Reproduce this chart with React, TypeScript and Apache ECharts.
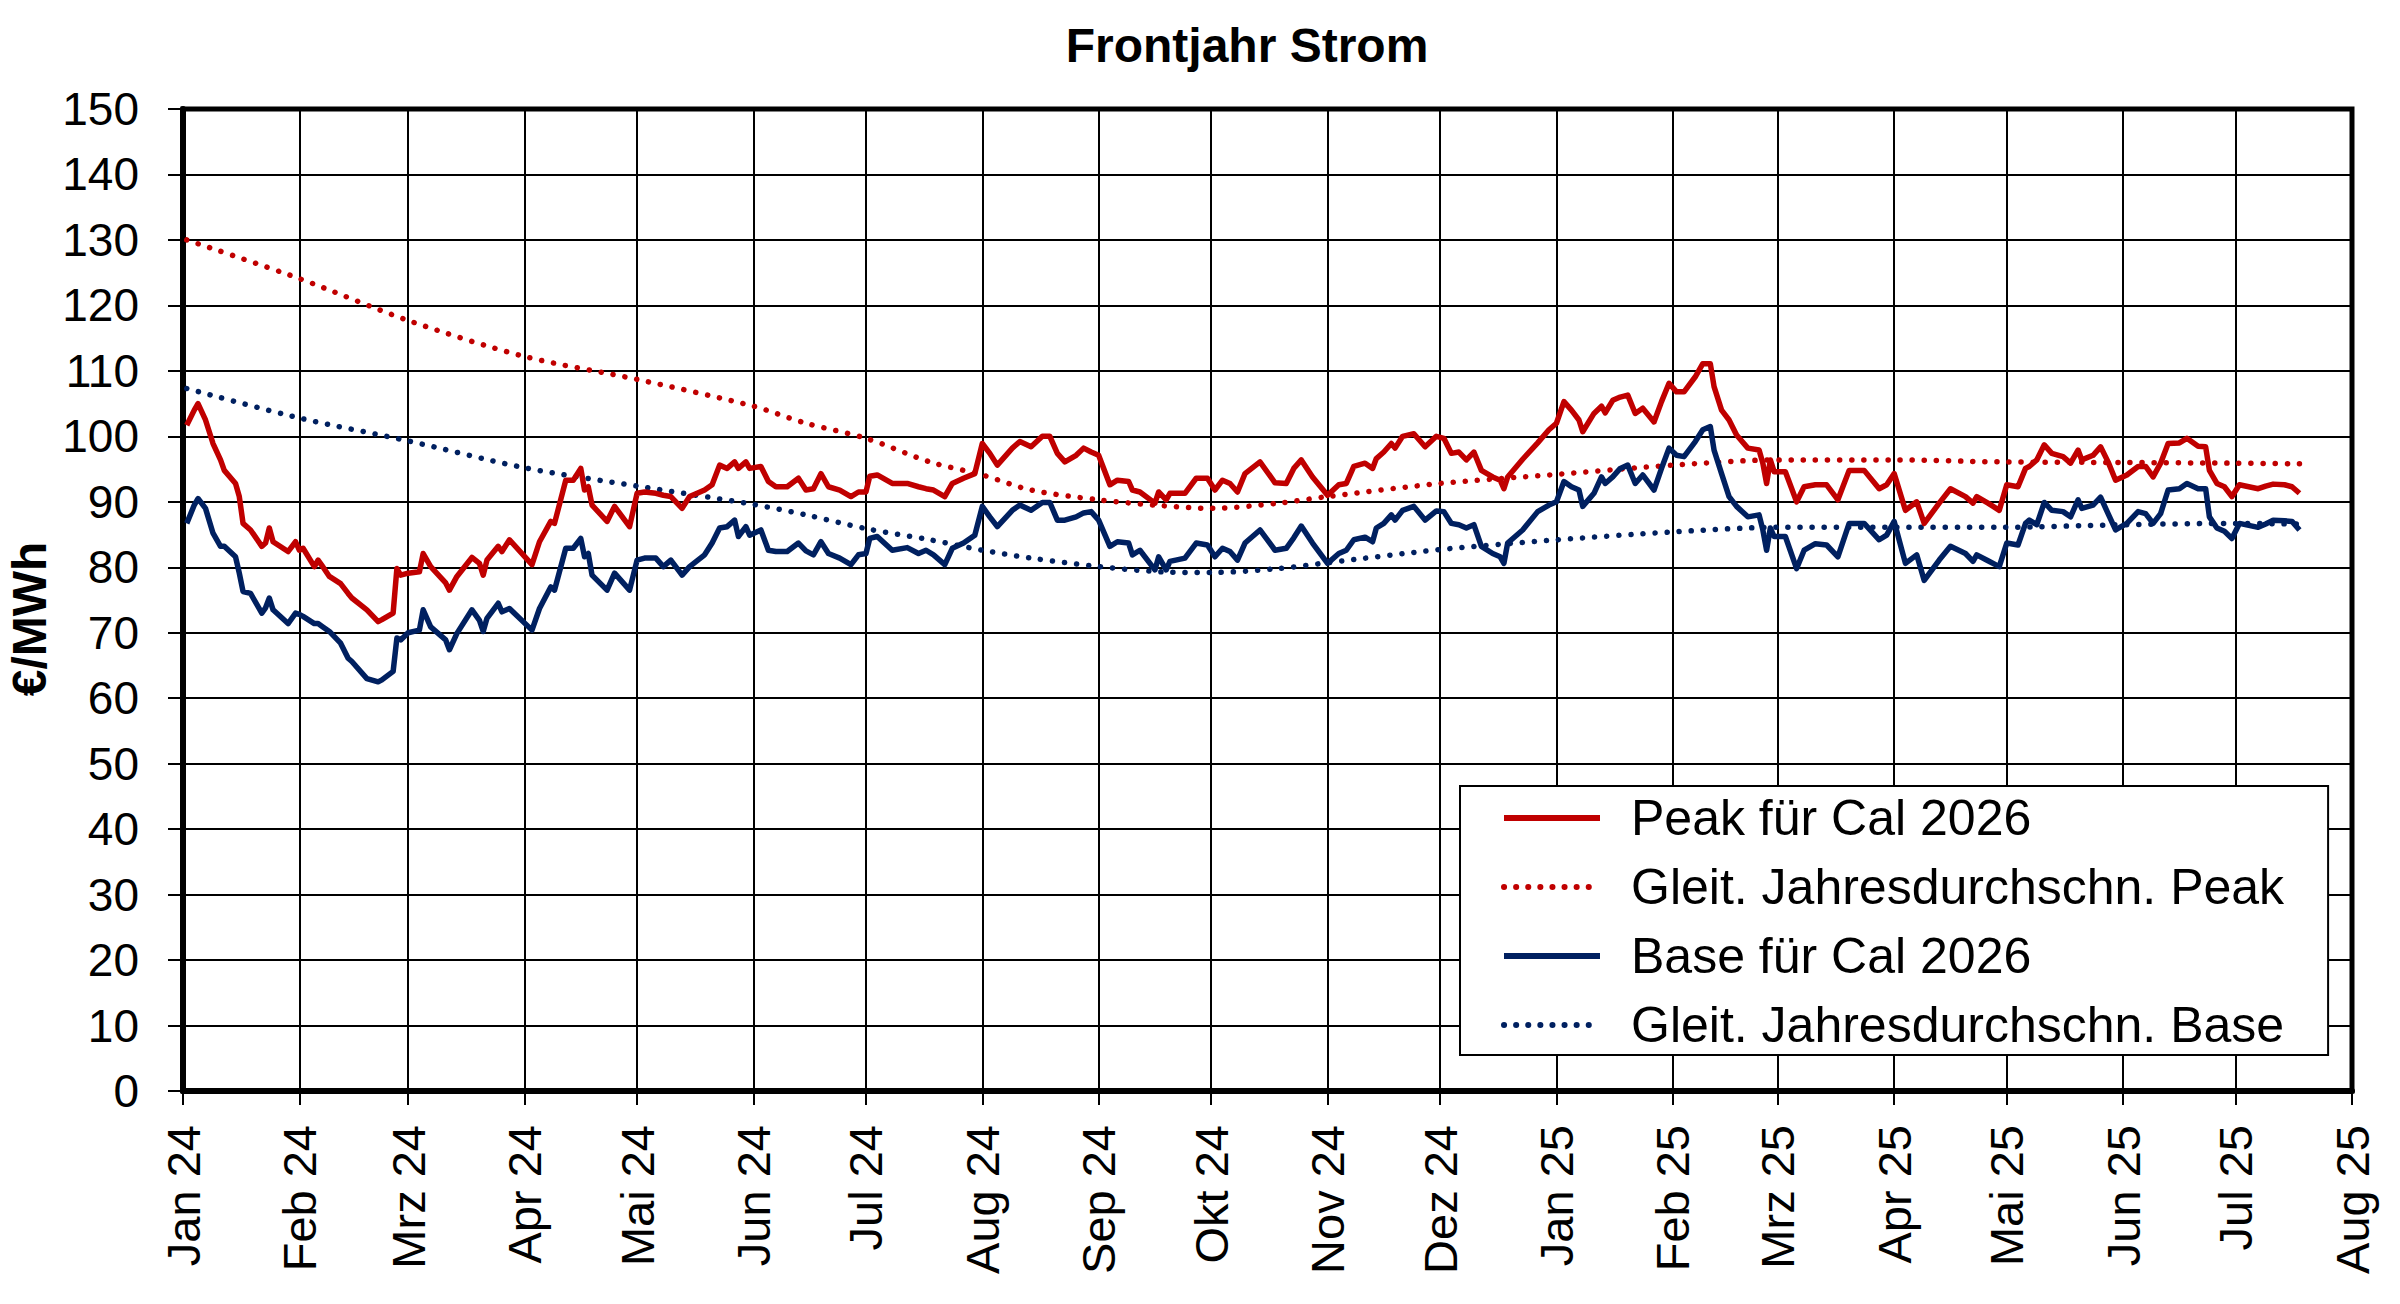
import React, { useEffect, useRef } from "react";
import * as echarts from "echarts";

const MONTHS_DE = ["Jan", "Feb", "Mrz", "Apr", "Mai", "Jun", "Jul", "Aug", "Sep", "Okt", "Nov", "Dez"];

const TITLE = "Frontjahr Strom";
const Y_NAME = "€/MWh";
const SERIES_NAMES = [
  "Peak für Cal 2026",
  "Gleit. Jahresdurchschn. Peak",
  "Base für Cal 2026",
  "Gleit. Jahresdurchschn. Base",
];

const dates = [
  "2024-01-02", "2024-01-04", "2024-01-05", "2024-01-07", "2024-01-09", "2024-01-11", "2024-01-12", "2024-01-15",
  "2024-01-16", "2024-01-17", "2024-01-19", "2024-01-22", "2024-01-23", "2024-01-24", "2024-01-25", "2024-01-29",
  "2024-01-31", "2024-02-01", "2024-02-02", "2024-02-05", "2024-02-06", "2024-02-07", "2024-02-09", "2024-02-12",
  "2024-02-14", "2024-02-15", "2024-02-19", "2024-02-22", "2024-02-23", "2024-02-26", "2024-02-27", "2024-02-28",
  "2024-03-01", "2024-03-04", "2024-03-05", "2024-03-07", "2024-03-11", "2024-03-12", "2024-03-14", "2024-03-18",
  "2024-03-20", "2024-03-21", "2024-03-22", "2024-03-25", "2024-03-26", "2024-03-28", "2024-04-03", "2024-04-05",
  "2024-04-08", "2024-04-09", "2024-04-12", "2024-04-14", "2024-04-16", "2024-04-17", "2024-04-18", "2024-04-19",
  "2024-04-23", "2024-04-25", "2024-04-29", "2024-05-01", "2024-05-03", "2024-05-06", "2024-05-08", "2024-05-10",
  "2024-05-13", "2024-05-15", "2024-05-19", "2024-05-21", "2024-05-23", "2024-05-25", "2024-05-27", "2024-05-28",
  "2024-05-30", "2024-05-31", "2024-06-03", "2024-06-05", "2024-06-07", "2024-06-10", "2024-06-13", "2024-06-15",
  "2024-06-17", "2024-06-19", "2024-06-21", "2024-06-24", "2024-06-27", "2024-06-29", "2024-07-01", "2024-07-02",
  "2024-07-04", "2024-07-08", "2024-07-12", "2024-07-15", "2024-07-17", "2024-07-19", "2024-07-22", "2024-07-24",
  "2024-07-27", "2024-07-30", "2024-08-01", "2024-08-03", "2024-08-05", "2024-08-09", "2024-08-11", "2024-08-14",
  "2024-08-17", "2024-08-19", "2024-08-21", "2024-08-23", "2024-08-26", "2024-08-28", "2024-08-30", "2024-09-01",
  "2024-09-04", "2024-09-06", "2024-09-09", "2024-09-10", "2024-09-12", "2024-09-16", "2024-09-17", "2024-09-19",
  "2024-09-20", "2024-09-24", "2024-09-27", "2024-09-30", "2024-10-02", "2024-10-04", "2024-10-06", "2024-10-08",
  "2024-10-10", "2024-10-14", "2024-10-18", "2024-10-21", "2024-10-23", "2024-10-25", "2024-10-28", "2024-11-01",
  "2024-11-04", "2024-11-06", "2024-11-08", "2024-11-11", "2024-11-13", "2024-11-14", "2024-11-16", "2024-11-18",
  "2024-11-19", "2024-11-21", "2024-11-24", "2024-11-27", "2024-11-30", "2024-12-02", "2024-12-04", "2024-12-06",
  "2024-12-08", "2024-12-10", "2024-12-12", "2024-12-15", "2024-12-17", "2024-12-18", "2024-12-19", "2024-12-23",
  "2024-12-27", "2024-12-30", "2025-01-01", "2025-01-03", "2025-01-05", "2025-01-07", "2025-01-08", "2025-01-11",
  "2025-01-13", "2025-01-14", "2025-01-16", "2025-01-18", "2025-01-20", "2025-01-22", "2025-01-24", "2025-01-27",
  "2025-01-29", "2025-01-31", "2025-02-02", "2025-02-04", "2025-02-07", "2025-02-09", "2025-02-11", "2025-02-12",
  "2025-02-14", "2025-02-16", "2025-02-18", "2025-02-21", "2025-02-24", "2025-02-25", "2025-02-26", "2025-02-27",
  "2025-02-28", "2025-03-03", "2025-03-06", "2025-03-08", "2025-03-11", "2025-03-14", "2025-03-17", "2025-03-20",
  "2025-03-24", "2025-03-28", "2025-03-30", "2025-04-01", "2025-04-04", "2025-04-07", "2025-04-09", "2025-04-13",
  "2025-04-16", "2025-04-20", "2025-04-22", "2025-04-23", "2025-04-26", "2025-04-29", "2025-05-01", "2025-05-04",
  "2025-05-06", "2025-05-07", "2025-05-09", "2025-05-11", "2025-05-13", "2025-05-16", "2025-05-18", "2025-05-20",
  "2025-05-21", "2025-05-24", "2025-05-26", "2025-05-28", "2025-05-30", "2025-06-02", "2025-06-05", "2025-06-07",
  "2025-06-09", "2025-06-11", "2025-06-13", "2025-06-16", "2025-06-18", "2025-06-21", "2025-06-23", "2025-06-24",
  "2025-06-26", "2025-06-28", "2025-06-30", "2025-07-02", "2025-07-07", "2025-07-09", "2025-07-11", "2025-07-14",
  "2025-07-16", "2025-07-18",
];

const peak = [
  101.7, 104.0, 105.0, 102.5, 98.9, 96.4, 94.8, 92.8,
  90.8, 86.7, 85.7, 83.2, 83.7, 86.0, 83.9, 82.4,
  83.9, 82.6, 82.9, 80.1, 81.1, 80.3, 78.6, 77.5,
  76.0, 75.3, 73.5, 71.7, 72.0, 73.0, 79.8, 78.8,
  79.1, 79.3, 82.1, 80.1, 77.6, 76.5, 78.6, 81.5,
  80.6, 78.8, 81.1, 83.2, 82.4, 84.2, 80.4, 83.9,
  87.0, 86.7, 93.3, 93.3, 95.1, 91.8, 92.3, 89.5,
  87.0, 89.3, 86.2, 91.3, 91.5, 91.3, 91.0, 90.8,
  89.0, 90.8, 91.8, 92.6, 95.6, 95.1, 96.1, 95.1,
  96.1, 95.1, 95.4, 93.1, 92.3, 92.3, 93.6, 91.8,
  92.0, 94.3, 92.3, 91.8, 90.8, 91.5, 91.5, 93.9,
  94.1, 92.8, 92.8, 92.3, 92.0, 91.8, 90.8, 92.8,
  93.6, 94.3, 98.9, 97.4, 95.6, 98.2, 99.2, 98.4,
  100.0, 100.0, 97.4, 96.1, 97.1, 98.2, 97.6, 97.1,
  92.6, 93.3, 93.1, 91.8, 91.5, 89.8, 91.5, 90.3,
  91.3, 91.3, 93.6, 93.6, 91.8, 93.3, 92.8, 91.5,
  94.3, 96.1, 92.9, 92.8, 95.1, 96.4, 93.8, 91.0,
  92.6, 92.8, 95.4, 95.9, 95.1, 96.6, 97.6, 98.9,
  98.2, 100.0, 100.4, 98.4, 100.0, 99.7, 97.4, 97.6,
  96.4, 97.6, 94.8, 93.8, 93.3, 92.0, 93.8, 96.5,
  99.0, 101.0, 102.0, 105.3, 104.0, 102.5, 100.7, 103.5,
  104.6, 103.6, 105.5, 106.0, 106.3, 103.5, 104.3, 102.2,
  105.3, 108.1, 106.8, 106.8, 109.1, 111.1, 111.1, 107.6,
  104.0, 102.5, 100.2, 98.2, 97.9, 95.9, 92.8, 96.4,
  94.6, 94.6, 90.0, 92.3, 92.6, 92.6, 90.3, 94.8,
  94.8, 92.0, 92.6, 94.3, 88.7, 90.0, 86.7, 89.8,
  92.0, 90.8, 89.8, 90.8, 89.8, 88.7, 92.6, 92.3,
  95.1, 95.4, 96.4, 98.7, 97.4, 96.9, 95.9, 97.9,
  96.4, 97.1, 98.4, 96.1, 93.3, 94.1, 95.4, 95.4,
  93.8, 95.9, 98.9, 99.0, 99.7, 98.5, 98.4, 94.8,
  92.8, 92.3, 90.8, 92.6, 92.0, 92.4, 92.7, 92.6,
  92.3, 91.3,
];

const base = [
  86.7, 89.5, 90.5, 89.0, 85.2, 83.2, 83.2, 81.6,
  79.1, 76.3, 76.0, 73.0, 73.8, 75.3, 73.5, 71.4,
  73.0, 72.8, 72.5, 71.4, 71.4, 71.0, 70.2, 68.4,
  66.1, 65.6, 63.0, 62.5, 62.8, 64.1, 69.2, 68.9,
  70.0, 70.4, 73.5, 70.9, 68.9, 67.4, 69.9, 73.5,
  71.9, 70.2, 72.2, 74.5, 73.2, 73.7, 70.4, 73.7,
  77.0, 76.5, 82.9, 82.9, 84.4, 81.6, 82.1, 78.8,
  76.5, 79.1, 76.5, 81.1, 81.4, 81.4, 80.1, 81.1,
  78.8, 80.1, 81.9, 83.7, 86.0, 86.2, 87.2, 84.7,
  86.2, 84.9, 85.7, 82.6, 82.4, 82.4, 83.7, 82.5,
  81.9, 83.9, 82.1, 81.4, 80.4, 81.9, 82.1, 84.4,
  84.7, 82.6, 83.0, 82.1, 82.6, 81.9, 80.4, 82.9,
  83.7, 84.9, 89.3, 87.7, 86.2, 88.7, 89.5, 88.7,
  89.9, 89.9, 87.2, 87.2, 87.7, 88.3, 88.5, 87.2,
  83.2, 83.9, 83.7, 81.9, 82.6, 79.6, 81.6, 79.6,
  80.9, 81.4, 83.7, 83.4, 81.6, 82.9, 82.4, 81.1,
  83.7, 85.7, 82.6, 82.9, 84.5, 86.3, 83.7, 80.6,
  82.1, 82.6, 84.2, 84.6, 83.9, 86.0, 86.7, 88.0,
  87.2, 88.7, 89.3, 87.2, 88.6, 88.5, 86.7, 86.5,
  86.0, 86.5, 83.2, 82.1, 81.6, 80.6, 83.7, 85.7,
  88.5, 89.5, 90.0, 93.1, 92.3, 91.8, 89.3, 91.3,
  93.8, 92.8, 93.8, 95.1, 95.6, 92.8, 94.1, 91.8,
  95.1, 98.2, 97.1, 96.9, 99.2, 101.0, 101.5, 97.9,
  94.3, 90.8, 89.3, 87.7, 88.0, 85.7, 82.6, 86.0,
  84.7, 84.7, 79.8, 82.6, 83.6, 83.4, 81.6, 86.7,
  86.7, 84.2, 84.9, 87.0, 80.6, 81.9, 78.0, 81.1,
  83.2, 82.1, 80.9, 81.9, 81.0, 80.1, 83.7, 83.4,
  86.7, 87.2, 86.5, 89.9, 88.7, 88.5, 87.7, 90.3,
  89.0, 89.5, 90.7, 88.2, 85.7, 86.7, 88.5, 88.2,
  86.7, 88.2, 91.8, 92.0, 92.8, 92.0, 92.0, 87.7,
  86.0, 85.5, 84.4, 86.7, 86.1, 86.6, 87.2, 87.1,
  87.0, 85.7,
];

const avgDates = [
  "2024-01-02", "2024-02-01", "2024-03-01", "2024-04-01", "2024-05-01", "2024-06-01", "2024-06-15", "2024-07-01",
  "2024-07-18", "2024-08-01", "2024-08-14", "2024-09-01", "2024-09-18", "2024-10-01", "2024-10-19", "2024-11-01",
  "2024-12-01", "2024-12-30", "2025-02-01", "2025-03-01", "2025-04-01", "2025-04-29", "2025-06-01", "2025-07-01",
  "2025-07-18",
];

const peakAvg = [
  130.0, 124.1, 117.7, 112.2, 108.7, 104.6, 102.0, 99.7,
  96.1, 94.1, 91.8, 90.3, 89.4, 89.0, 89.8, 90.8,
  92.8, 94.1, 95.6, 96.4, 96.4, 96.1, 96.0, 95.9,
  95.8,
];

const baseAvg = [
  107.3, 102.8, 99.3, 95.2, 92.4, 89.6, 88.0, 85.9,
  84.2, 82.6, 81.4, 80.1, 79.3, 79.2, 79.8, 80.7,
  82.7, 84.1, 85.4, 86.1, 86.1, 86.1, 86.5, 86.7,
  86.6,
];

const FONT = '"Liberation Sans", Arial, Helvetica, sans-serif';
const RED = "#C00000";
const BLUE = "#002060";
const DAY = 24 * 3600 * 1000;

export default function App() {
  const ref = useRef<HTMLDivElement>(null);

  useEffect(() => {
    if (!ref.current) return;
    const chart = echarts.init(ref.current, undefined, { renderer: "svg" });

    const pair = (ds: string[], vs: number[]) => ds.map((d, i) => [d, vs[i]]);
    const dotted = { type: [0.1, 12] as any, width: 5.5, cap: "round" as const };

    chart.setOption({
      animation: false,
      backgroundColor: "#ffffff",
      graphic: [
        {
          type: "text",
          x: 1247,
          y: 45,
          style: {
            text: TITLE,
            fontFamily: FONT,
            fontSize: 48,
            fontWeight: "bold",
            fill: "#000",
            align: "center",
            verticalAlign: "middle",
          },
        },
        {
          type: "text",
          x: 29,
          y: 619,
          rotation: Math.PI / 2,
          style: {
            text: Y_NAME,
            fontFamily: FONT,
            fontSize: 48,
            fontWeight: "bold",
            fill: "#000",
            align: "center",
            verticalAlign: "middle",
          },
        },
      ],
      grid: {
        left: 183,
        right: 48,
        top: 109,
        bottom: 213,
        show: true,
        borderColor: "#000",
        borderWidth: 5,
        backgroundColor: "transparent",
        containLabel: false,
      },
      legend: {
        orient: "vertical",
        left: 1460,
        top: 786,
        itemWidth: 96,
        itemHeight: 14,
        itemGap: 19,
        padding: [7, 44, 5, 41],
        backgroundColor: "#ffffff",
        borderColor: "#000",
        borderWidth: 2,
        borderRadius: 0,
        selectedMode: false,
        itemStyle: { color: "transparent", opacity: 0, borderWidth: 0 },
        lineStyle: { width: 6 },
        textStyle: {
          fontFamily: FONT,
          fontSize: 50,
          color: "#000",
          padding: [0, 0, 0, 26],
        },
        data: SERIES_NAMES,
      },
      xAxis: {
        type: "time",
        min: "2024-01-01",
        max: "2025-08-01",
        minInterval: 28 * DAY,
        maxInterval: 31 * DAY,
        axisLine: { show: true, lineStyle: { color: "#000", width: 6 } },
        axisTick: { show: true, length: 14, lineStyle: { color: "#000", width: 2 } },
        splitLine: { show: true, lineStyle: { color: "#000", width: 2 } },
        axisLabel: {
          rotate: 90,
          margin: 34,
          fontSize: 47,
          fontFamily: FONT,
          color: "#000",
          showMinLabel: true,
          showMaxLabel: true,
          formatter: (v: number) => {
            const d = new Date(v);
            return MONTHS_DE[d.getMonth()] + " " + String(d.getFullYear()).slice(2);
          },
        },
      },
      yAxis: {
        type: "value",
        min: 0,
        max: 150,
        interval: 10,
        axisLine: { show: true, lineStyle: { color: "#000", width: 6 } },
        axisTick: { show: true, length: 15, lineStyle: { color: "#000", width: 2 } },
        splitLine: { show: true, lineStyle: { color: "#000", width: 2 } },
        axisLabel: { margin: 44, fontSize: 46, fontFamily: FONT, color: "#000" },
      },
      series: [
        {
          name: SERIES_NAMES[1],
          type: "line",
          data: pair(avgDates, peakAvg),
          symbol: "none",
          smooth: 0.3,
          lineStyle: { color: RED, ...dotted },
          itemStyle: { color: RED },
          z: 3,
        },
        {
          name: SERIES_NAMES[3],
          type: "line",
          data: pair(avgDates, baseAvg),
          symbol: "none",
          smooth: 0.3,
          lineStyle: { color: BLUE, ...dotted },
          itemStyle: { color: BLUE },
          z: 3,
        },
        {
          name: SERIES_NAMES[0],
          type: "line",
          data: pair(dates, peak),
          symbol: "none",
          lineStyle: { color: RED, width: 5.5, join: "round" },
          itemStyle: { color: RED },
          z: 4,
        },
        {
          name: SERIES_NAMES[2],
          type: "line",
          data: pair(dates, base),
          symbol: "none",
          lineStyle: { color: BLUE, width: 5.5, join: "round" },
          itemStyle: { color: BLUE },
          z: 4,
        },
      ],
    });

    return () => chart.dispose();
  }, []);

  return (
    <div
      ref={ref}
      style={{ position: "fixed", left: 0, top: 0, width: 2400, height: 1304, background: "#fff" }}
    />
  );
}
